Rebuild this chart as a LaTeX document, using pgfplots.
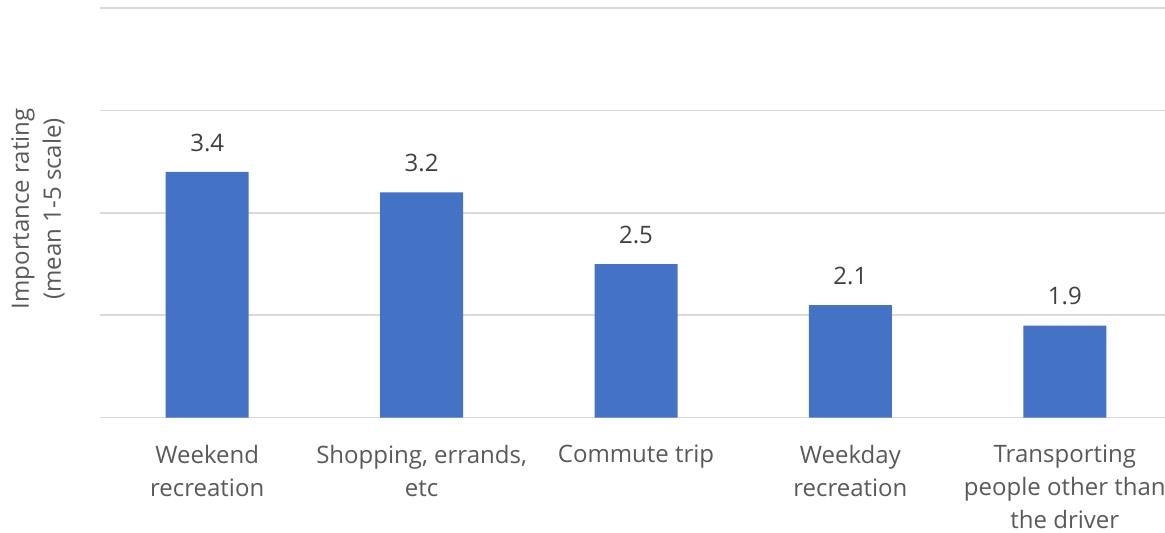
\documentclass[border=0pt]{standalone}
\usepackage{pgfplots}
\pgfplotsset{compat=1.18}
\usepackage{fontspec}
\setmainfont{Open Sans}
\definecolor{barblue}{HTML}{4472C4}
\definecolor{gridgray}{HTML}{D9D9D9}
\definecolor{txtgray}{HTML}{595959}
\definecolor{lblgray}{HTML}{404040}
\begin{document}
\begin{tikzpicture}
\begin{axis}[
  scale only axis,
  width=536pt, height=204.85pt,
  xmin=-0.5, xmax=4.5,
  ymin=1, ymax=5,
  ytick={1,2,3,4,5},
  yticklabels={},
  ymajorgrids,
  grid style={gridgray, line width=0.8pt},
  axis line style={draw=none},
  major tick length=0pt,
  xtick={0,1,2,3,4},
  xticklabels={{Weekend\\recreation},{Shopping, errands,\\etc},{Commute trip},{Weekday\\recreation},{Transporting\\people other than\\the driver}},
  xticklabel style={align=center, anchor=north, inner sep=0pt, yshift=-13.4pt, font=\fontsize{12}{16.5}\selectfont, text=txtgray},
  ylabel={Importance rating\\(mean 1-5 scale)},
  ylabel style={align=center, at={(rel axis cs:0,0.51)}, anchor=south, inner sep=0pt, yshift=17.5pt, font=\fontsize{12}{16}\selectfont, text=txtgray},
  ybar, bar width=41.5pt,
  nodes near coords,
  nodes near coords style={anchor=south, inner sep=0pt, yshift=10pt, font=\fontsize{12}{14}\selectfont, text=lblgray, /pgf/number format/.cd, fixed, precision=1, fixed zerofill, assume math mode=true},
  clip=false,
]
\addplot[fill=barblue, draw=none] coordinates {(0,3.4) (1,3.2) (2,2.5) (3,2.1) (4,1.9)};
\coordinate (bl) at (rel axis cs:0,0);
\coordinate (tr) at (rel axis cs:1,1);
\end{axis}
\pgfresetboundingbox
\path ([shift={(-50pt,-57.65pt)}]bl) rectangle ([shift={(-3.5pt,4pt)}]tr);
\end{tikzpicture}
\end{document}
